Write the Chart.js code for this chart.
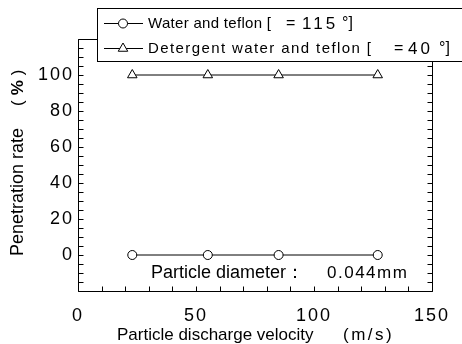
<!DOCTYPE html>
<html><head><meta charset="utf-8">
<script src="https://cdn.jsdelivr.net/npm/chart.js@4"></script>
<style>html,body{margin:0;padding:0;background:#fff}canvas{display:block}</style>
</head><body>
<canvas id="c" width="462" height="344"></canvas>
<script>
// ---- data ----
const velocities = [23, 55, 85, 127];
const waterTeflon = [0, 0, 0, 0];
const detergentTeflon = [100, 100, 100, 100];
const seriesNames = ['Water and teflon [', 'Detergent water and teflon ['];
const contactAngles = ['115', '40'];
const xTickValues = [0, 50, 100, 150];
const yTickValues = [0, 20, 40, 60, 80, 100];
const xTitle = ['Particle discharge velocity', '(m/s)'];
const yTitle = ['Penetration rate', '(', '%', ')'];
const noteText = ['Particle diameter\uFF1A', '0.044mm'];

const SANS = '"Liberation Sans", Arial, sans-serif';

function drawMarker(ctx, style, x, y) {
  ctx.save();
  ctx.fillStyle = '#fff'; ctx.strokeStyle = '#000'; ctx.lineWidth = 1;
  ctx.beginPath();
  if (style === 'circle') {
    ctx.arc(x, y, 4.5, 0, Math.PI * 2);
  } else {
    const r = 5.5;
    ctx.moveTo(x, y - r);
    ctx.lineTo(x + r * Math.sin(2 * Math.PI / 3), y - r * Math.cos(2 * Math.PI / 3));
    ctx.lineTo(x + r * Math.sin(4 * Math.PI / 3), y - r * Math.cos(4 * Math.PI / 3));
    ctx.closePath();
  }
  ctx.fill(); ctx.stroke();
  ctx.restore();
}

function spacedText(ctx, text, x, y, font, spacing) {
  ctx.font = font;
  ctx.letterSpacing = spacing + 'px';
  ctx.fillText(text, x, y);
  const w = ctx.measureText(text).width;
  ctx.letterSpacing = '0px';
  return w;
}

const framePlugin = {
  id: 'frame',
  beforeDraw(chart) { chart.ctx.letterSpacing = '2px'; },
  beforeDatasetsDraw(chart) { chart.ctx.letterSpacing = '0px'; },
  afterDraw(chart) {
    const ctx = chart.ctx;
    const { left, right, top, bottom } = chart.chartArea;
    const xs = chart.scales.x, ys = chart.scales.y;
    ctx.save();
    ctx.letterSpacing = '0px';
    ctx.strokeStyle = '#000';
    ctx.lineWidth = 1;
    const L = Math.round(left) + 0.5, R = Math.round(right) + 0.5;
    const T = Math.round(top) + 0.5, B = Math.round(bottom) + 0.5;
    ctx.beginPath();
    ctx.rect(L, T, R - L, B - T);
    // inward ticks
    for (let v = xs.min; v <= xs.max; v += 10) {
      const p = Math.round(xs.getPixelForValue(v)) + 0.5;
      ctx.moveTo(p, B); ctx.lineTo(p, B - 5);
      ctx.moveTo(p, T); ctx.lineTo(p, T + 5);
    }
    for (let v = ys.min; v <= ys.max; v += 5) {
      const p = Math.round(ys.getPixelForValue(v)) + 0.5;
      ctx.moveTo(L, p); ctx.lineTo(L + 5, p);
      ctx.moveTo(R, p); ctx.lineTo(R - 5, p);
    }
    ctx.stroke();

    // legend box
    ctx.fillStyle = '#fff';
    ctx.fillRect(97, 8, 380, 53);
    ctx.strokeRect(97.5, 8.5, 380, 53);
    ctx.fillStyle = '#000';
    ctx.textBaseline = 'middle';
    ctx.textAlign = 'left';
    const legendRows = [
      { y: 23, style: 'circle', sp: 0.3, eq: 286, num: 302, deg: 342 },
      { y: 48, style: 'triangle', sp: 1.4, eq: 394, num: 408, deg: 439 }
    ];
    legendRows.forEach((r, i) => {
      const ry = r.y;
      ctx.beginPath();
      ctx.moveTo(104, ry + 0.5); ctx.lineTo(143, ry + 0.5); ctx.stroke();
      drawMarker(ctx, r.style, 123, ry + 0.5);
      ctx.fillStyle = '#000';
      const f = '15px ' + SANS;
      spacedText(ctx, seriesNames[i], 148, ry + 1, f, r.sp);
      spacedText(ctx, '=', r.eq, ry + 1, '16px ' + SANS, 0);
      spacedText(ctx, contactAngles[i], r.num, ry + 1, '17px ' + SANS, 3);
      spacedText(ctx, '\u00B0]', r.deg, ry + 1, '16px ' + SANS, 0);
    });

    // note
    ctx.textBaseline = 'middle';
    spacedText(ctx, noteText[0], 151, 273, '18px ' + SANS, 0);
    spacedText(ctx, noteText[1], 327, 273, '17px ' + SANS, 1.5);

    // x title
    ctx.textAlign = 'left';
    spacedText(ctx, xTitle[0], 117, 335, '17px ' + SANS, 0);
    spacedText(ctx, xTitle[1], 343, 335, '17px ' + SANS, 2.5);

    // y title (rotated)
    ctx.save();
    ctx.translate(18, 256);
    ctx.rotate(-Math.PI / 2);
    ctx.textAlign = 'left';
    let yx = 0;
    yx += spacedText(ctx, yTitle[0], yx, 0, '18px ' + SANS, 0);
    yx += 22;
    yx += spacedText(ctx, yTitle[1], yx, 0, '17px ' + SANS, 0) + 5;
    yx += spacedText(ctx, yTitle[2], yx, 0, 'bold 17px ' + SANS, 0) + 5;
    spacedText(ctx, yTitle[3], yx, 0, '17px ' + SANS, 0);
    ctx.restore();

    ctx.restore();
  }
};

new Chart(document.getElementById('c'), {
  type: 'line',
  data: {
    datasets: [
      {
        label: seriesNames[0],
        data: velocities.map((v, i) => ({ x: v, y: waterTeflon[i] })),
        borderColor: '#000', borderWidth: 1, tension: 0,
        pointStyle: 'circle', pointRadius: 4.5,
        pointBackgroundColor: '#fff', pointBorderColor: '#000', pointBorderWidth: 1
      },
      {
        label: seriesNames[1],
        data: velocities.map((v, i) => ({ x: v, y: detergentTeflon[i] })),
        borderColor: '#000', borderWidth: 1, tension: 0,
        pointStyle: 'triangle', pointRadius: 5.5,
        pointBackgroundColor: '#fff', pointBorderColor: '#000', pointBorderWidth: 1
      }
    ]
  },
  options: {
    responsive: false,
    animation: false,
    layout: { padding: { top: 39, right: 30, left: 0, bottom: 0 } },
    plugins: { legend: { display: false }, tooltip: { enabled: false } },
    scales: {
      x: {
        type: 'linear', min: 0, max: 150,
        afterBuildTicks: s => { s.ticks = xTickValues.map(v => ({ value: v })); },
        afterFit: s => { s.height = 53; },
        grid: { display: false, drawTicks: false, tickLength: 0 },
        border: { display: false },
        ticks: { color: '#000', font: { family: SANS, size: 18 }, padding: 14, maxRotation: 0 }
      },
      y: {
        type: 'linear', min: -20, max: 120,
        afterBuildTicks: s => { s.ticks = yTickValues.map(v => ({ value: v })); },
        afterFit: s => { s.width = 78; },
        grid: { display: false, drawTicks: false, tickLength: 0 },
        border: { display: false },
        ticks: { color: '#000', font: { family: SANS, size: 18 }, padding: 4 }
      }
    }
  },
  plugins: [framePlugin]
});
</script>
</body></html>
